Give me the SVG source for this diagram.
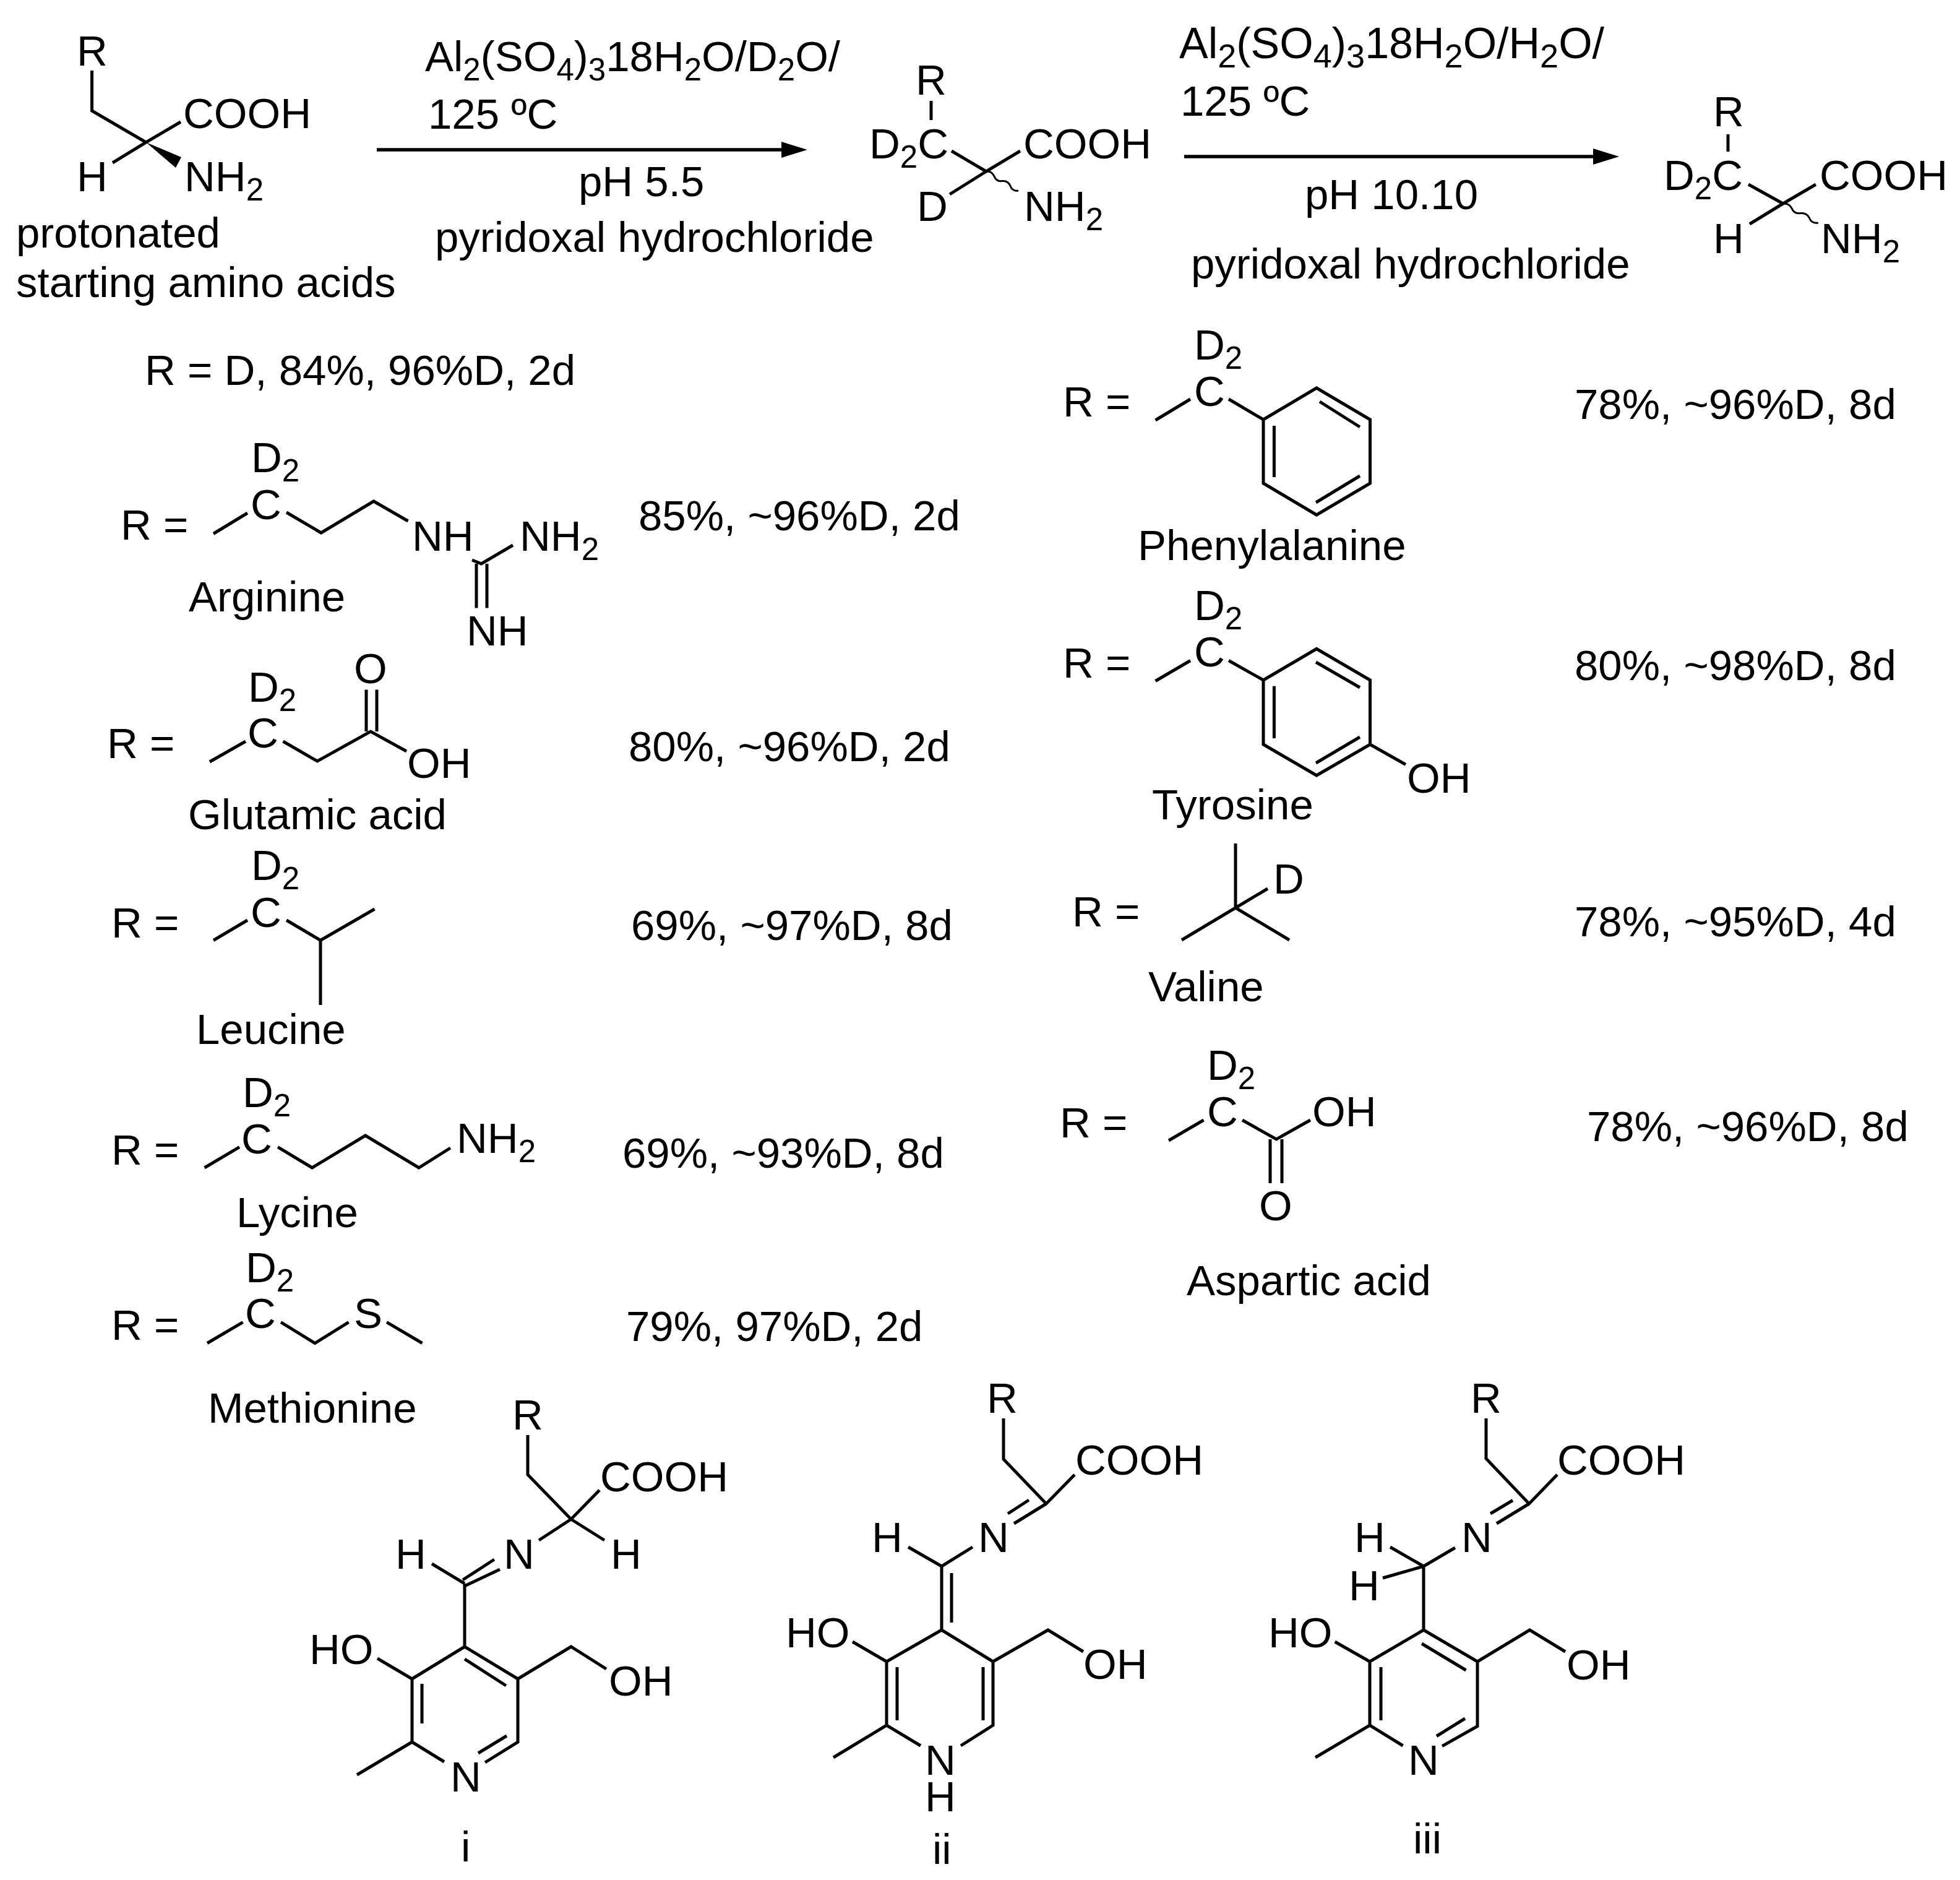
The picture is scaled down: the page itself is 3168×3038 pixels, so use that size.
<svg xmlns="http://www.w3.org/2000/svg" width="3168" height="3038" viewBox="0 0 3168 3038">
<style>
text{font-family:"Liberation Sans",Arial,sans-serif;font-size:69px;fill:#000}
.s{font-size:51px}
.r{font-size:70px}
.r .s{font-size:54px}
.b{fill:none;stroke:#000;stroke-width:5}
.w{fill:none;stroke:#000;stroke-width:3}
.a{fill:none;stroke:#000;stroke-width:5.500}
</style>
<defs>
<marker id="head" markerUnits="userSpaceOnUse" markerWidth="44" markerHeight="26" refX="0" refY="13" orient="auto"><path d="M0,0L42,13L0,26Z" fill="#000"/></marker>
</defs>
<rect width="3168" height="3038" fill="#fff"/>
<g id="connectors">
<path class="a" d="M609,242H1263" marker-end="url(#head)"/>
<path class="a" d="M1914,253H2575" marker-end="url(#head)"/>
</g>
<g id="start-amino-acid">
<path class="b" d="M148.600,114V179L236,230L292,197M236,230L182,263"/>
<path d="M236,230L293,254L284,271Z" fill="#000"/>
<text x="124" y="106">R</text><text x="296" y="207">COOH</text><text x="124" y="309">H</text>
<text x="298" y="309">NH<tspan class="s" dy="15">2</tspan></text>
<text x="26" y="400">protonated</text><text x="26" y="480">starting amino acids</text>
</g>
<g id="reagents-1">
<text x="687" y="115">Al<tspan class="s" dy="15">2</tspan><tspan dy="-15">(SO</tspan><tspan class="s" dy="15">4</tspan><tspan dy="-15">)</tspan><tspan class="s" dy="15">3</tspan><tspan dy="-15">18H</tspan><tspan class="s" dy="15">2</tspan><tspan dy="-15">O/D</tspan><tspan class="s" dy="15">2</tspan><tspan dy="-15">O/</tspan></text>
<text x="692" y="208">125 ºC</text><text x="935" y="317">pH 5.5</text><text x="703" y="407">pyridoxal hydrochloride</text>
</g>
<g id="intermediate">
<path class="b" d="M1505,163V194M1538,244L1594,277L1649,244M1594,277L1535,314"/>
<path class="w" d="M1594,277q9,-1 13,7.800q3,9 13,7.800q9,-1 13,7.800q3,9 13,7.800"/>
<text x="1480" y="153">R</text><text x="1405" y="256">D<tspan class="s" dy="15">2</tspan><tspan dy="-15">C</tspan></text>
<text x="1654" y="256">COOH</text><text x="1482" y="357">D</text><text x="1655" y="357">NH<tspan class="s" dy="15">2</tspan></text>
</g>
<g id="reagents-2">
<text class="r" x="1906" y="94">Al<tspan class="s" dy="15">2</tspan><tspan dy="-15">(SO</tspan><tspan class="s" dy="15">4</tspan><tspan dy="-15">)</tspan><tspan class="s" dy="15">3</tspan><tspan dy="-15">18H</tspan><tspan class="s" dy="15">2</tspan><tspan dy="-15">O/H</tspan><tspan class="s" dy="15">2</tspan><tspan dy="-15">O/</tspan></text>
<text x="1908" y="187">125 ºC</text><text x="2109" y="338">pH 10.10</text><text x="1925" y="450">pyridoxal hydrochloride</text>
</g>
<g id="product">
<path class="b" d="M2793,217V245M2826,298L2882,329L2935,298M2882,329L2828,362"/>
<path class="w" d="M2882,329q10,-1 14.200,7.800q3,9 14.200,7.800q10,-1 14.200,7.800q3,9 14.200,7.800"/>
<text x="2769" y="204">R</text><text x="2689" y="307">D<tspan class="s" dy="15">2</tspan><tspan dy="-15">C</tspan></text>
<text x="2941" y="307">COOH</text><text x="2769" y="409">H</text><text x="2943" y="409">NH<tspan class="s" dy="15">2</tspan></text>
</g>
<g id="r-deuterium"><text x="234" y="622">R = D, 84%, 96%D, 2d</text></g>
<g id="arginine">
<path class="b" d="M345,862.500L400,829M463,828L519,861L604,810L659.500,842M763,905L778,911L829,881M770,911V982.500M787,911V982.500"/>
<text x="195" y="872">R =</text><text x="406" y="763">D<tspan class="s" dy="15">2</tspan></text><text x="405" y="839">C</text>
<text x="666" y="890">NH</text><text x="840" y="890">NH<tspan class="s" dy="15">2</tspan></text><text x="754" y="1043">NH</text>
<text x="305" y="988">Arginine</text><text x="1032" y="857">85%, ~96%D, 2d</text>
</g>
<g id="glutamic-acid">
<path class="b" d="M339,1231L397,1198M457.500,1198L513,1230L599,1182L657,1214M592,1114.500V1182M609,1114.500V1182"/>
<text x="173" y="1225">R =</text><text x="401" y="1133.500">D<tspan class="s" dy="15">2</tspan></text><text x="400" y="1208">C</text>
<text x="572" y="1104">O</text><text x="658" y="1257">OH</text>
<text x="304" y="1340">Glutamic acid</text><text x="1016" y="1230">80%, ~96%D, 2d</text>
</g>
<g id="leucine">
<path class="b" d="M345,1519.500L400,1487M463,1487L518,1519.500L605.500,1469M518,1519.500V1624"/>
<text x="180" y="1515">R =</text><text x="406" y="1422">D<tspan class="s" dy="15">2</tspan></text><text x="405" y="1498">C</text>
<text x="317" y="1687">Leucine</text><text x="1020" y="1519">69%, ~97%D, 8d</text>
</g>
<g id="lycine">
<path class="b" d="M330.600,1887L387,1853.600M449,1853.600L504.500,1887L590.600,1835L677,1887L728,1855"/>
<text x="180" y="1882">R =</text><text x="392" y="1789">D<tspan class="s" dy="15">2</tspan></text><text x="390" y="1864">C</text>
<text x="738" y="1863">NH<tspan class="s" dy="15">2</tspan></text>
<text x="382" y="1983">Lycine</text><text x="1006" y="1887">69%, ~93%D, 8d</text>
</g>
<g id="methionine">
<path class="b" d="M335,2170.500L392.600,2136.600M454,2136.600L509,2170.500L563.600,2136.600M625,2136.600L682.500,2170.500"/>
<text x="180" y="2165">R =</text><text x="397" y="2072">D<tspan class="s" dy="15">2</tspan></text><text x="396" y="2146">C</text><text x="572" y="2146">S</text>
<text x="336" y="2299">Methionine</text><text x="1012" y="2167">79%, 97%D, 2d</text>
</g>
<g id="phenylalanine">
<path class="b" d="M1867.600,679L1924,645M1986,645L2042,678L2128,627L2214.500,678V781L2128,832L2042,781V678M2059.400,688V771M2133,649L2198,690M2198,769L2127,812"/>
<text x="1718" y="673">R =</text><text x="1930" y="581">D<tspan class="s" dy="15">2</tspan></text><text x="1930" y="656">C</text>
<text x="1839" y="905">Phenylalanine</text><text x="2545" y="677">78%, ~96%D, 8d</text>
</g>
<g id="tyrosine">
<path class="b" d="M1867.600,1100.500L1924,1067.500M1986,1067.500L2042,1099L2128,1048.500L2214.500,1099V1203L2128,1253L2042,1203V1099M2059.400,1108.700V1193M2127,1070L2198,1111M2198,1191L2127,1233M2214.500,1203L2272,1235.500"/>
<text x="1718" y="1095">R =</text><text x="1930" y="1002.400">D<tspan class="s" dy="15">2</tspan></text><text x="1930" y="1077">C</text>
<text x="2274" y="1280.500">OH</text>
<text x="1862" y="1324">Tyrosine</text><text x="2545" y="1099">80%, ~98%D, 8d</text>
</g>
<g id="valine">
<path class="b" d="M1997,1363V1467L1910,1519M1997,1467L2084,1519M1997,1467L2049,1436"/>
<text x="1733" y="1497">R =</text><text x="2058" y="1444">D</text>
<text x="1856" y="1618">Valine</text><text x="2545" y="1513">78%, ~95%D, 4d</text>
</g>
<g id="aspartic-acid">
<path class="b" d="M1889,1843L1945.500,1810M2008,1810L2063,1841L2118,1810M2053,1841V1912M2072,1841V1912"/>
<text x="1713" y="1838">R =</text><text x="1951" y="1745">D<tspan class="s" dy="15">2</tspan></text><text x="1951" y="1820">C</text>
<text x="2121" y="1820">OH</text><text x="2035" y="1971.500">O</text>
<text x="1918" y="2093">Aspartic acid</text><text x="2565" y="1844">78%, ~96%D, 8d</text>
</g>
<g id="structure-i">
<path class="b" d="M853,2319V2383L923,2455L969,2408M923,2455L977,2489M923,2455L871,2489M698,2527L751,2559M748,2553L799,2520M751,2563L808,2536M751,2559V2661L666,2713V2815L718,2847M751,2661L837,2713V2815L784,2848M751,2681L818,2724M682,2721V2785M819,2805L773,2833M666,2815L577,2868M666,2713L610,2680M837,2713L923,2661L980,2697"/>
<text x="828" y="2310">R</text><text x="970" y="2410">COOH</text><text x="987" y="2535">H</text><text x="814" y="2535">N</text><text x="639" y="2535">H</text>
<text x="500" y="2689">HO</text><text x="984" y="2740">OH</text><text x="728" y="2895">N</text><text x="745" y="3008">i</text>
</g>
<g id="structure-ii">
<path class="b" d="M1622,2292V2358L1691,2430L1737,2383M1691,2430L1639,2462M1663,2424L1629,2446M1468,2500L1522,2531L1572,2500M1522,2531V2634M1538,2542V2622M1522,2634L1433,2685V2788L1488,2821M1522,2634L1605,2685V2788L1553,2821M1450,2694V2780M1589,2694V2780M1433,2788L1347,2840M1433,2685L1378,2653M1605,2685L1694,2634L1751,2669"/>
<text x="1595" y="2283">R</text><text x="1738" y="2383">COOH</text><text x="1581" y="2508">N</text><text x="1409" y="2508">H</text>
<text x="1270" y="2662">HO</text><text x="1751" y="2713">OH</text><text x="1495" y="2868">N</text><text x="1495" y="2927">H</text><text x="1507" y="3012">ii</text>
</g>
<g id="structure-iii">
<path class="b" d="M2402,2292V2357L2471.500,2430L2517,2383M2471.500,2430L2419,2462M2445,2424.500L2409,2446M2247,2500L2301,2531L2352,2501M2301,2531L2235,2550M2301,2531V2634L2214,2685V2788L2267.600,2821M2301,2634L2388,2685V2789.500L2331,2821.600M2232,2694V2780M2298,2656L2369.500,2699M2368,2777L2322,2805.500M2214,2788L2126,2840M2214,2685L2157.600,2653M2388,2685L2472.500,2634L2530,2669"/>
<text x="2377" y="2283">R</text><text x="2517" y="2383">COOH</text><text x="2362" y="2508">N</text><text x="2189" y="2508">H</text><text x="2180" y="2586">H</text>
<text x="2050" y="2662">HO</text><text x="2532" y="2714">OH</text><text x="2276" y="2868">N</text><text x="2284" y="2995">iii</text>
</g>
</svg>
